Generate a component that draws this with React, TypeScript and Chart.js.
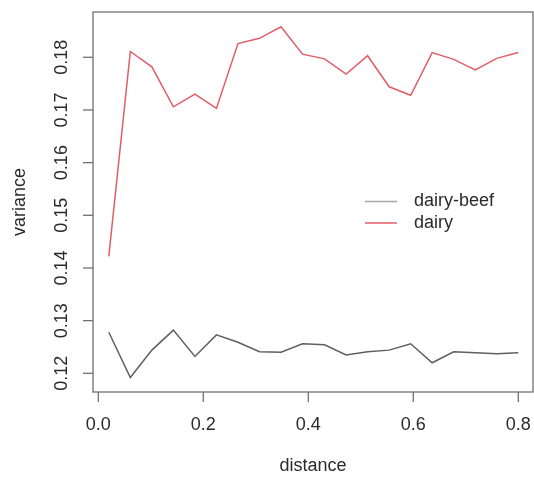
import React, { useEffect, useRef } from "react";
import { Chart, registerables } from "chart.js";

Chart.register(...registerables);

const distance = [0.020, 0.061, 0.102, 0.143, 0.184, 0.225, 0.266, 0.307, 0.348, 0.389, 0.431, 0.472, 0.513, 0.554, 0.595, 0.636, 0.677, 0.718, 0.759, 0.800];
const dairy = [0.1422, 0.1811, 0.1782, 0.1706, 0.1730, 0.1703, 0.1826, 0.1836, 0.1858, 0.1806, 0.1797, 0.1768, 0.1803, 0.1744, 0.1728, 0.1809, 0.1796, 0.1776, 0.1798, 0.1809];
const dairyBeef = [0.1278, 0.1192, 0.1244, 0.1282, 0.1232, 0.1273, 0.1259, 0.1241, 0.1240, 0.1256, 0.1254, 0.1235, 0.1241, 0.1244, 0.1256, 0.1220, 0.1241, 0.1239, 0.1237, 0.1239];
const xTicks = [0.0, 0.2, 0.4, 0.6, 0.8];
const xTickLabels = ["0.0", "0.2", "0.4", "0.6", "0.8"];
const yTicks = [0.12, 0.13, 0.14, 0.15, 0.16, 0.17, 0.18];
const yTickLabels = ["0.12", "0.13", "0.14", "0.15", "0.16", "0.17", "0.18"];
const seriesNames = ["dairy-beef", "dairy"];
const xTitle = "distance";
const yTitle = "variance";

const RED = "rgb(226,92,104)";
const GREY = "rgb(95,95,95)";
const FONT = "18px 'Liberation Sans', Arial, sans-serif";

const rAxesPlugin = {
  id: "rAxes",
  afterDraw(chart: any) {
    const ctx = chart.ctx;
    const a = chart.chartArea;
    const xs = chart.scales.x;
    const ys = chart.scales.y;
    ctx.save();
    ctx.strokeStyle = "#707070";
    ctx.lineWidth = 1.3;
    ctx.strokeRect(a.left, a.top, a.right - a.left, a.bottom - a.top);
    ctx.fillStyle = "#2a2a2a";
    ctx.font = FONT;
    // x ticks
    ctx.textAlign = "center";
    ctx.textBaseline = "middle";
    xTicks.forEach((v, i) => {
      const px = xs.getPixelForValue(v);
      ctx.beginPath();
      ctx.moveTo(px, a.bottom);
      ctx.lineTo(px, a.bottom + 10);
      ctx.stroke();
      ctx.fillText(xTickLabels[i], px, a.bottom + 33);
    });
    // y ticks
    yTicks.forEach((v, i) => {
      const py = ys.getPixelForValue(v);
      ctx.beginPath();
      ctx.moveTo(a.left, py);
      ctx.lineTo(a.left - 10, py);
      ctx.stroke();
      ctx.save();
      ctx.translate(a.left - 31, py);
      ctx.rotate(-Math.PI / 2);
      ctx.fillText(yTickLabels[i], 0, 0);
      ctx.restore();
    });
    // titles
    ctx.fillText(xTitle, (a.left + a.right) / 2, 466);
    ctx.save();
    ctx.translate(20, (a.top + a.bottom) / 2);
    ctx.rotate(-Math.PI / 2);
    ctx.fillText(yTitle, 0, 0);
    ctx.restore();
    // legend
    const legendColors = ["rgb(165,165,165)", RED];
    const legendY = [201.5, 223];
    ctx.textAlign = "left";
    seriesNames.forEach((name, i) => {
      ctx.strokeStyle = legendColors[i];
      ctx.lineWidth = 1.5;
      ctx.beginPath();
      ctx.moveTo(365, legendY[i]);
      ctx.lineTo(397, legendY[i]);
      ctx.stroke();
      ctx.fillText(name, 414, legendY[i]);
    });
    ctx.restore();
  },
};

export default function App() {
  const ref = useRef<HTMLCanvasElement>(null);
  useEffect(() => {
    if (!ref.current) return;
    const chart = new Chart(ref.current, {
      type: "line",
      data: {
        datasets: [
          {
            label: seriesNames[0],
            data: distance.map((d, i) => ({ x: d, y: dairyBeef[i] })),
            borderColor: GREY,
            borderWidth: 1.5,
            pointRadius: 0,
            tension: 0,
          },
          {
            label: seriesNames[1],
            data: distance.map((d, i) => ({ x: d, y: dairy[i] })),
            borderColor: RED,
            borderWidth: 1.5,
            pointRadius: 0,
            tension: 0,
          },
        ],
      },
      options: {
        animation: false,
        responsive: false,
        events: [],
        layout: { padding: { left: 93, top: 12, right: 1, bottom: 85 } },
        plugins: { legend: { display: false }, tooltip: { enabled: false } },
        scales: {
          x: { type: "linear", display: false, min: -0.0101, max: 0.828 },
          y: { type: "linear", display: false, min: 0.11645, max: 0.1886 },
        },
      },
      plugins: [rAxesPlugin],
    });
    return () => chart.destroy();
  }, []);
  return (
    <div style={{ position: "fixed", left: 0, top: 0, width: 534, height: 477, background: "#fff" }}>
      <canvas ref={ref} width={534} height={477} style={{ width: 534, height: 477 }} />
    </div>
  );
}
